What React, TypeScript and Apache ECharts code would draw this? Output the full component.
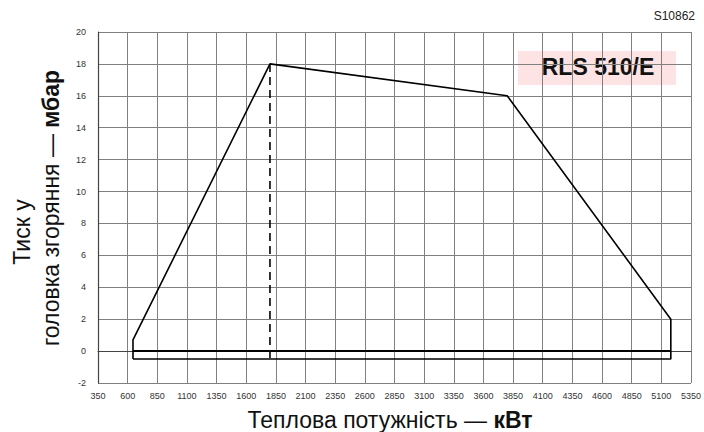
import React, { useEffect, useRef } from "react";
import * as echarts from "echarts";

const xTicks = [350, 600, 850, 1100, 1350, 1600, 1850, 2100, 2350, 2600, 2850, 3100, 3350, 3600, 3850, 4100, 4350, 4600, 4850, 5100, 5350];
const yTicks = [-2, 0, 2, 4, 6, 8, 10, 12, 14, 16, 18, 20];
const envelopeX = [645, 645, 1800, 3800, 5180, 5180, 645];
const envelopeY = [-0.5, 0.7, 18, 16, 2, -0.5, -0.5];
const zeroLineX = [645, 5180];
const zeroLineY = [0, 0];
const dashX = [1800, 1800];
const dashY = [18, -0.5];
const modelName = "RLS 510/E";
const codeLabel = "S10862";
const yTitle1 = "Тиск у";
const yTitle2 = "головка згоряння — ";
const yUnit = "мбар";
const xTitle = "Теплова потужність — ";
const xUnit = "кВт";

export default function App() {
  const ref = useRef<HTMLDivElement>(null);
  useEffect(() => {
    if (!ref.current) return;
    const chart = echarts.init(ref.current, null, { renderer: "svg" });
    const zip = (xs: number[], ys: number[]) => xs.map((x, i) => [x, ys[i]]);
    const font = "'Liberation Sans', Arial, sans-serif";
    const rich = {
      n: { fontSize: 23, fill: "#111", color: "#111", fontFamily: font },
      b: { fontSize: 23, fill: "#111", color: "#111", fontWeight: "bold", fontFamily: font },
    };
    chart.setOption({
      animation: false,
      textStyle: { fontFamily: font },
      grid: { left: 98, right: 9, top: 32, bottom: 49 },
      xAxis: {
        type: "value",
        min: xTicks[0],
        max: xTicks[xTicks.length - 1],
        interval: 250,
        axisLine: { show: true, lineStyle: { color: "#444", width: 1.2 } },
        axisTick: { show: false },
        splitLine: { show: true, lineStyle: { color: "#808080", width: 1 } },
        axisLabel: { fontSize: 9, color: "#333", margin: 8, fontFamily: font, formatter: (v: number) => String(v) },
      },
      yAxis: {
        type: "value",
        min: yTicks[0],
        max: yTicks[yTicks.length - 1],
        interval: 2,
        axisLine: { show: true, lineStyle: { color: "#444", width: 1.2 } },
        axisTick: { show: false },
        splitLine: { show: true, lineStyle: { color: "#808080", width: 1 } },
        axisLabel: { fontSize: 9, color: "#333", margin: 12, fontFamily: font },
      },
      graphic: [
        {
          type: "text",
          right: 9,
          top: 10,
          style: { text: codeLabel, fontSize: 12, fill: "#222", fontFamily: font },
        },
        {
          type: "rect",
          left: 518,
          top: 51,
          shape: { width: 158, height: 34 },
          style: { fill: "#fde3e3" },
        },
        {
          type: "text",
          x: 598,
          y: 67,
          style: {
            text: modelName,
            fontSize: 23,
            fontWeight: "bold",
            fill: "#111",
            align: "center",
            verticalAlign: "middle",
            fontFamily: font,
          },
        },
        {
          type: "text",
          x: 390,
          y: 420,
          style: {
            text: "{n|" + xTitle + "}{b|" + xUnit + "}",
            rich,
            align: "center",
            verticalAlign: "middle",
            fontFamily: font,
          },
        },
        {
          type: "text",
          x: 22,
          y: 232,
          rotation: Math.PI / 2,
          style: {
            text: yTitle1,
            fontSize: 23,
            fill: "#111",
            align: "center",
            verticalAlign: "middle",
            fontFamily: font,
          },
        },
        {
          type: "text",
          x: 51,
          y: 208,
          rotation: Math.PI / 2,
          style: {
            text: "{n|" + yTitle2 + "}{b|" + yUnit + "}",
            rich,
            align: "center",
            verticalAlign: "middle",
            fontFamily: font,
          },
        },
      ],
      series: [
        {
          type: "line",
          data: zip(envelopeX, envelopeY),
          symbol: "none",
          lineStyle: { color: "#000", width: 1.6 },
          z: 5,
        },
        {
          type: "line",
          data: zip(zeroLineX, zeroLineY),
          symbol: "none",
          lineStyle: { color: "#000", width: 2 },
          z: 5,
        },
        {
          type: "line",
          data: zip(dashX, dashY),
          symbol: "none",
          lineStyle: { color: "#000", width: 1.6, type: [8, 5] },
          z: 5,
        },
      ],
    });
    return () => chart.dispose();
  }, []);
  return <div ref={ref} style={{ width: 704, height: 432, position: "absolute", left: 0, top: 0, background: "#fff" }} />;
}
